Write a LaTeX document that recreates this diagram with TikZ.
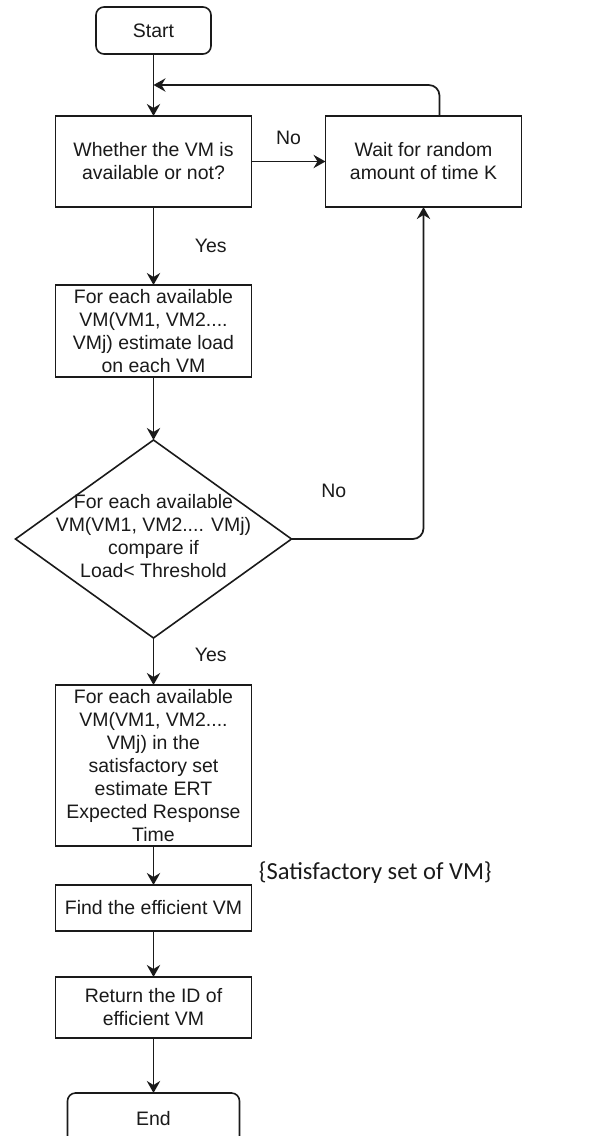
\documentclass[tikz,border=0pt]{standalone}
\usepackage{fontspec}
\setmainfont{Liberation Sans}
\newfontfamily\notefont{Carlito}
\usetikzlibrary{arrows.meta,positioning,shapes.geometric}
\definecolor{ink}{HTML}{1A1A1A}
\tikzset{
  every node/.style={font=\fontsize{14.6pt}{17.25pt}\selectfont, text=ink},
  box/.style={draw=ink, line width=1.2pt, fill=white, align=center, inner sep=0pt, outer sep=0pt, minimum width=147pt},
  term/.style={box, rounded corners=6pt, minimum height=35.25pt},
  decision/.style={diamond, draw=ink, line width=1.2pt, inner sep=0pt, outer sep=0pt, minimum width=207pt, minimum height=148.5pt},
  boxtext/.style={align=center, inner sep=0pt},
  arrow/.style={-{Stealth[length=9pt,width=10pt,inset=3pt]}, line width=1.3pt, draw=ink},
  notelabel/.style={font=\notefont\fontsize{18.4pt}{21pt}\selectfont},
}

\begin{document}
\begin{tikzpicture}[x=0.75pt,y=0.75pt]
\useasboundingbox (0,0) rectangle (592,-1136);
% main column
\node[term, minimum width=86.25pt] (start) at (153.5,-30.5) {Start};
\node[box, below=46.5pt of start, minimum height=68.25pt] (avail) {Whether the VM is\\available or not?};
\node[box, right=55.5pt of avail, minimum height=68.25pt] (wait) {Wait for random\\amount of time K};
\node[box, below=58.5pt of avail, minimum height=69pt] (estload) {For each available\\VM(VM1, VM2....\\VMj) estimate load\\on each VM};
\node[decision, below=47.25pt of estload] (cmp) {};
\node[boxtext] (cmptext) at ([yshift=2.5pt]cmp.center) {For each available\\VM(VM1, VM2.... VMj)\\compare if\\Load< Threshold};
\node[box, below=35.25pt of cmp, minimum height=120.75pt] (ert) {For each available\\VM(VM1, VM2....\\VMj) in the\\satisfactory set\\estimate ERT\\Expected Response\\Time};
\node[box, below=29.25pt of ert, minimum height=34.5pt] (findvm) {Find the efficient VM};
\node[box, below=34.5pt of findvm, minimum height=45.75pt] (retid) {Return the ID of\\efficient VM};
\node[term, below=41.25pt of retid, minimum width=129pt, minimum height=39pt] (finish) {End};
\coordinate[below=23.25pt of start] (jn);
% connectors
\draw[arrow] (start) -- (avail);
\draw[arrow, rounded corners=8pt] ([xshift=12pt]wait.north) |- (jn);
\draw[arrow] (avail) -- node[above=9pt] {No} (wait);
\draw[arrow] (avail) -- node[right=27pt] {Yes} (estload);
\draw[arrow] (estload) -- (cmp);
\draw[arrow, rounded corners=8pt] (cmp.east) -| node[pos=0.16, above=27pt] {No} (wait.south);
\draw[arrow] (cmp) -- node[pos=0.35, right=27pt] {Yes} (ert);
\draw[arrow] (ert) -- node[pos=0.67, right=75pt, notelabel] {\{Satisfactory set of VM\}} (findvm);
\draw[arrow] (findvm) -- (retid);
\draw[arrow] (retid) -- (finish);
\end{tikzpicture}
\end{document}
